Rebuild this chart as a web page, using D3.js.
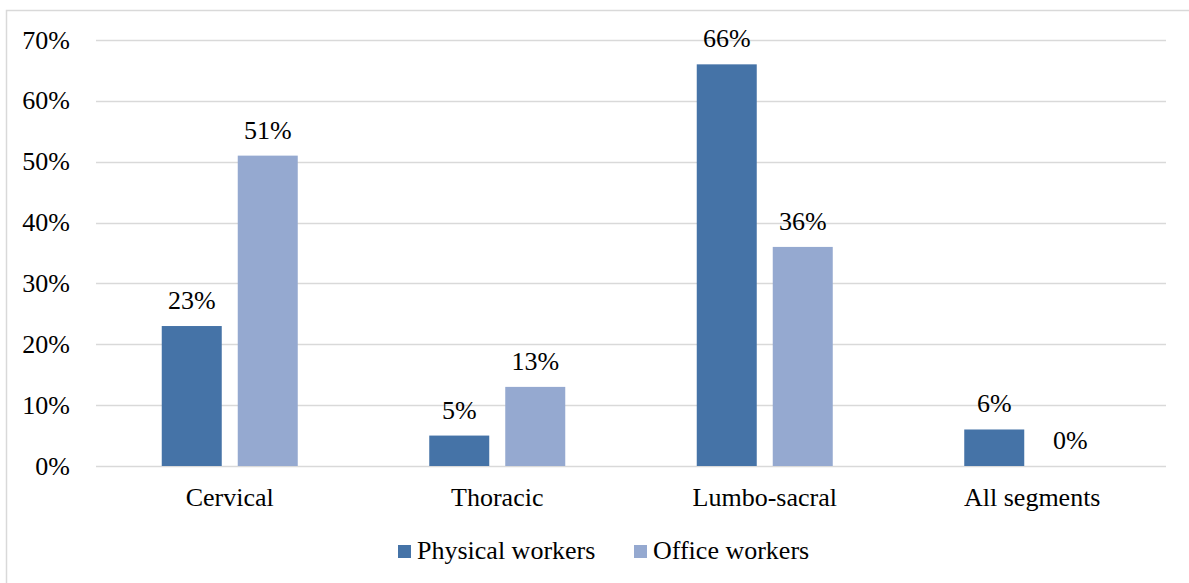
<!DOCTYPE html>
<html>
<head>
<meta charset="utf-8">
<script src="https://cdn.jsdelivr.net/npm/d3@7"></script>
</head>
<body style="margin:0">
<svg id="chart" width="1189" height="583" font-family="Liberation Serif" style="display:block"></svg>
<script>
const categories = ['Cervical', 'Thoracic', 'Lumbo-sacral', 'All segments'];
const seriesNames = ['Physical workers', 'Office workers'];
const physical = [23, 5, 66, 6];
const office = [51, 13, 36, 0];
const yTicks = [0, 10, 20, 30, 40, 50, 60, 70];
const colors = ['#4573a7', '#95a9d0'];

const width = 1189;
const height = 583;
const margin = { top: 40, right: 23, bottom: 117, left: 96 };
const fontFamily = 'Liberation Serif';
const fontSize = 26;

const svg = d3.select('#chart');

// outer frame (right/bottom edges run off the picture)
svg.append('rect')
  .attr('x', 6.5).attr('y', 10.5)
  .attr('width', width).attr('height', height)
  .attr('fill', 'none')
  .attr('stroke', '#d9d9d9')
  .attr('stroke-width', 1.5);

const x = d3.scaleBand()
  .domain(categories)
  .range([margin.left, width - margin.right]);

const y = d3.scaleLinear()
  .domain([0, 70])
  .range([height - margin.bottom, margin.top]);

// gridlines
svg.append('g')
  .selectAll('line')
  .data(yTicks)
  .join('line')
  .attr('x1', margin.left)
  .attr('x2', width - margin.right)
  .attr('y1', d => Math.round(y(d)) + 0.5)
  .attr('y2', d => Math.round(y(d)) + 0.5)
  .attr('stroke', '#d9d9d9')
  .attr('stroke-width', 1.5);

// y labels
svg.append('g')
  .selectAll('text')
  .data(yTicks)
  .join('text')
  .attr('x', 70)
  .attr('y', d => y(d) + 8.5)
  .attr('text-anchor', 'end')
  .attr('font-family', fontFamily)
  .attr('font-size', fontSize)
  .attr('fill', '#000')
  .text(d => d + '%');

const barW = 60;
const gap = 16;
const sub = d3.scaleOrdinal()
  .domain([0, 1])
  .range([-(gap / 2 + barW), gap / 2]);

const rows = categories.map((c, i) => ({ cat: c, vals: [physical[i], office[i]] }));

const groups = svg.append('g')
  .selectAll('g')
  .data(rows)
  .join('g')
  .attr('transform', d => `translate(${x(d.cat) + x.bandwidth() / 2},0)`);

groups.selectAll('rect')
  .data(d => d.vals.map((v, k) => ({ v, k })))
  .join('rect')
  .attr('x', d => sub(d.k))
  .attr('y', d => y(d.v))
  .attr('width', barW)
  .attr('height', d => y(0) - y(d.v))
  .attr('fill', d => colors[d.k]);

groups.selectAll('text.val')
  .data(d => d.vals.map((v, k) => ({ v, k })))
  .join('text')
  .attr('class', 'val')
  .attr('x', d => sub(d.k) + barW / 2)
  .attr('y', d => y(d.v) - 17)
  .attr('text-anchor', 'middle')
  .attr('font-family', fontFamily)
  .attr('font-size', fontSize)
  .text(d => d.v + '%');

// category labels
svg.append('g')
  .selectAll('text')
  .data(categories)
  .join('text')
  .attr('x', d => x(d) + x.bandwidth() / 2)
  .attr('y', 506)
  .attr('text-anchor', 'middle')
  .attr('font-family', fontFamily)
  .attr('font-size', fontSize)
  .text(d => d);

// legend
const legendX = [398, 634];
const legend = svg.append('g')
  .selectAll('g')
  .data(seriesNames)
  .join('g')
  .attr('transform', (d, i) => `translate(${legendX[i]},545)`);

legend.append('rect')
  .attr('width', 13).attr('height', 13)
  .attr('fill', (d, i) => colors[i]);

legend.append('text')
  .attr('x', 19)
  .attr('y', 14)
  .attr('font-family', fontFamily)
  .attr('font-size', fontSize)
  .text(d => d);
</script>
</body>
</html>
